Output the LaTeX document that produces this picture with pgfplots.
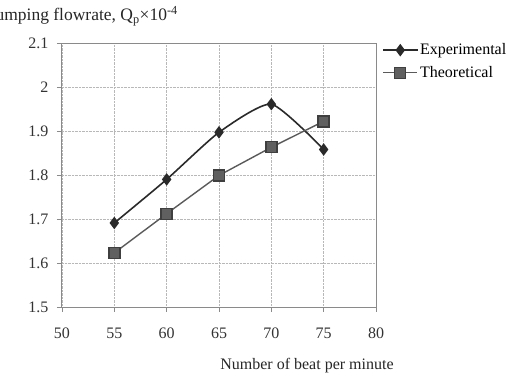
\documentclass[border=0pt]{standalone}
\usepackage{pgfplots}
\pgfplotsset{compat=1.18}
\usepackage{fontspec}
\setmainfont{Liberation Serif}
\definecolor{expc}{HTML}{2A2A2A}
\definecolor{theoc}{HTML}{5A5A5A}
\definecolor{theof}{HTML}{606060}
\definecolor{gridc}{HTML}{B8B8B8}
\definecolor{axc}{HTML}{8A8A8A}
\begin{document}
\begin{tikzpicture}
\begin{axis}[
  scale only axis, width=314pt, height=264pt,
  xmin=50, xmax=80, ymin=1.5, ymax=2.1,
  xtick={50,55,...,80}, ytick={1.5,1.6,...,2.1},
  /pgf/number format/assume math mode=true,
  yticklabel style={/pgf/number format/fixed, /pgf/number format/precision=1, xshift=-5pt},
  tick label style={font=\fontsize{16}{18}\selectfont, text=black!80},
  xticklabel style={yshift=-12pt},
  tick align=outside, tick pos=left, major tick length=5pt,
  tick style={axc, line width=0.8pt},
  axis line style={axc, line width=1pt},
  grid=major, major grid style={gridc, densely dotted, line width=0.8pt},
  legend style={draw=none, fill=none, at={(1.02,1.005)}, anchor=north west,
    font=\fontsize{16}{18}\selectfont, row sep=6pt, inner sep=0pt,
    /tikz/every even column/.append style={column sep=2pt}},
  legend cell align=left,
  legend image code/.code={
    \draw[#1, mark repeat=2, mark phase=2] plot coordinates {(0pt,0pt) (17pt,0pt) (34pt,0pt)};
  },
]
\coordinate (O) at (rel axis cs:0,0);
\addplot[expc, line width=1.6pt, smooth, tension=0.35, mark=diamond*, mark size=5pt,
  mark options={fill=expc, draw=expc, solid}] coordinates {
  (55,1.691) (60,1.790) (65,1.897) (70,1.961) (75,1.858)};
\addlegendentry{Experimental}
\addplot[theoc, line width=1.4pt, mark=square*, mark size=5.5pt,
  mark options={fill=theof, draw=theoc!70!black, solid}] coordinates {
  (55,1.623) (60,1.712) (65,1.799) (70,1.863) (75,1.922)};
\addlegendentry{Theoretical}
\end{axis}
\node[anchor=base east, inner sep=0pt, font=\fontsize{17.5}{19}\selectfont, text=black!85]
  at ([xshift=116pt,yshift=286pt]O) {Pumping flowrate, Q\textsubscript{p}×10\textsuperscript{-4}};
\node[anchor=base, inner sep=0pt, font=\fontsize{16}{18}\selectfont, text=black!85]
  at ([xshift=245pt,yshift=-62pt]O) {Number of beat per minute};
\pgfresetboundingbox
\path[use as bounding box] ([xshift=-62pt,yshift=-68pt]O) rectangle ([xshift=446pt,yshift=307pt]O);
\end{tikzpicture}
\end{document}
